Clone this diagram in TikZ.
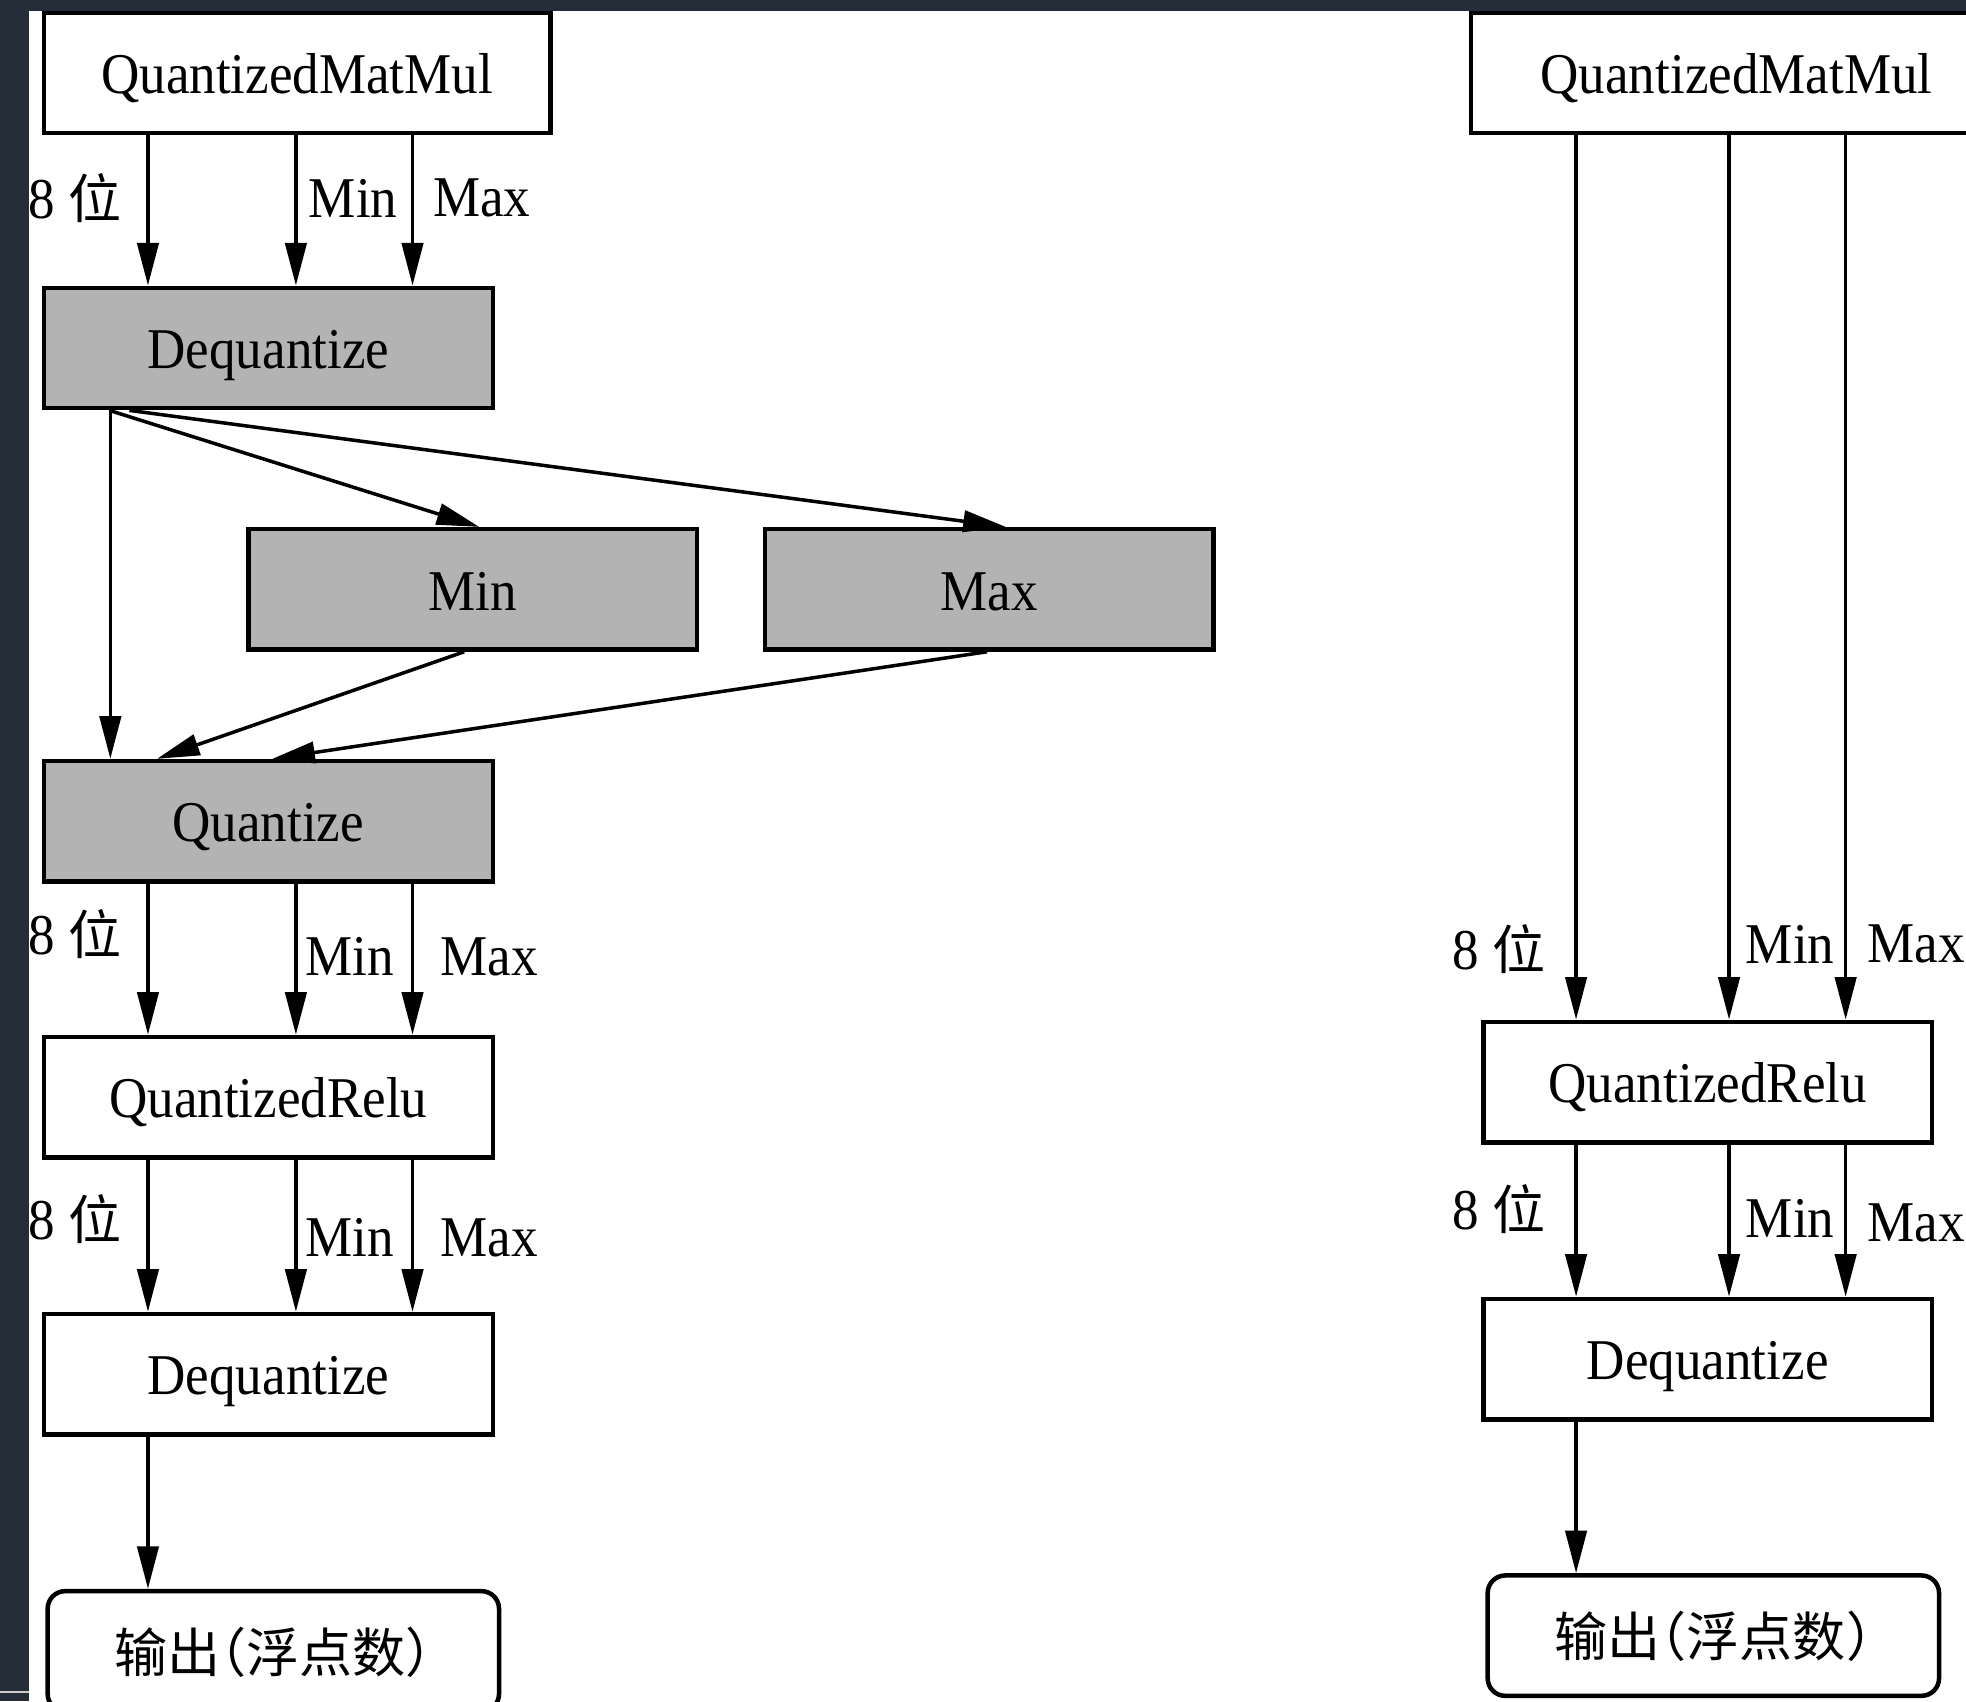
\documentclass[tikz,border=0pt]{standalone}
\usepackage{fontspec}
\setmainfont{Liberation Serif}[FakeStretch=0.92]
\newfontfamily\cjk{Noto Sans CJK SC}[Scale=0.92,RawFeature=+halt]
\usetikzlibrary{arrows.meta,calc}
\definecolor{graybox}{HTML}{B3B3B3}
\definecolor{framecol}{HTML}{252E38}
\begin{document}
\begin{tikzpicture}[x=0.5pt,y=-0.5pt,
  every node/.style={font=\fontsize{23pt}{27pt}\selectfont},
  box/.style={draw,line width=1.8pt,minimum width=179pt,minimum height=48pt,inner sep=0pt,fill=white,
    text height=20pt,text depth=3.5pt},
  gbox/.style={box,fill=graybox},
  obox/.style={box,minimum width=180pt,rounded corners=7pt},
  arr/.style={line width=1.4pt,-{Triangle[length=17pt,width=8.5pt]}},
  lbl/.style={inner sep=0pt}]
\fill[white] (0,0) rectangle (1568,1357);
\useasboundingbox (0,0) rectangle (1568,1357);

% left column nodes
\node[box,minimum width=202pt] (qmmA) at (237,58) {QuantizedMatMul};
\node[gbox] (deqA) at (214,277.5) {Dequantize};
\node[gbox] (minN) at (377,470) {Min};
\node[gbox] (maxN) at (789,470) {Max};
\node[gbox] (quant) at (214,655) {Quantize};
\node[box] (qreluA) at (214,875) {QuantizedRelu};
\node[box] (deqB) at (214,1096) {Dequantize};
\node[obox] (outA) at (218,1317) {\cjk 输出（浮点数）};

% right column nodes
\node[box,minimum width=212pt] (qmmB) at (1385,58) {QuantizedMatMul};
\node[box] (qreluB) at (1362,863) {QuantizedRelu};
\node[box] (deqC) at (1362,1084) {Dequantize};
\node[obox] (outB) at (1366.5,1304.5) {\cjk 输出（浮点数）};

% column guides
\coordinate (cA) at (118,0);
\coordinate (cB) at (236,0);
\coordinate (cC) at (329,0);
\coordinate (cD) at (88,0);
\coordinate (rA) at (1257,0);
\coordinate (rB) at (1379,0);
\coordinate (rC) at (1472,0);

% left vertical edges
\foreach \s/\t in {qmmA/deqA, quant/qreluA, qreluA/deqB}
  \foreach \c in {cA,cB,cC}
    \draw[arr] (\s.south -| \c) -- (\t.north -| \c);
\draw[arr] (deqB.south -| cA) -- (outA.north -| cA);

% right vertical edges
\foreach \s/\t in {qmmB/qreluB, qreluB/deqC}
  \foreach \c in {rA,rB,rC}
    \draw[arr] (\s.south -| \c) -- (\t.north -| \c);
\draw[arr] (deqC.south -| rA) -- (outB.north -| rA);

% min/max branch
\draw[arr] (deqA.south -| cD) -- (quant.north -| cD);
\draw[arr] ($(deqA.south west)+(54,0)$) -- ($(minN.north west)+(186,0)$);
\draw[arr] ($(deqA.south west)+(70,0)$) -- ($(maxN.north west)+(194,0)$);
\draw[arr] ($(minN.south west)+(174,0)$) -- ($(quant.north west)+(92,0)$);
\draw[arr] ($(maxN.south west)+(179,0)$) -- ($(quant.north west)+(184,0)$);

% labels left
\node[lbl,anchor=east] (l1a) at (97,158) {8 {\cjk 位}};
\node[lbl,anchor=west] (l1b) at (246,158) {Min};
\node[lbl,anchor=west] (l1c) at (345,158) {Max};
\node[lbl,anchor=east] (l2a) at (97,745) {8 {\cjk 位}};
\node[lbl,anchor=west] (l2b) at (243,763) {Min};
\node[lbl,anchor=west] (l2c) at (351,763) {Max};
\node[lbl,anchor=east] (l3a) at (97,972) {8 {\cjk 位}};
\node[lbl,anchor=west] (l3b) at (243,987) {Min};
\node[lbl,anchor=west] (l3c) at (351,987) {Max};
% labels right
\node[lbl,anchor=east] (r1a) at (1233,757) {8 {\cjk 位}};
\node[lbl,anchor=west] (r1b) at (1392,753) {Min};
\node[lbl,anchor=west] (r1c) at (1489,753) {Max};
\node[lbl,anchor=east] (r2a) at (1233,964) {8 {\cjk 位}};
\node[lbl,anchor=west] (r2b) at (1392,972) {Min};
\node[lbl,anchor=west] (r2c) at (1489,975) {Max};

% dark frame
\fill[framecol] (0,0) rectangle (1568,9);
\fill[framecol] (0,0) rectangle (23,1357);
\draw[gray!40,line width=0.5pt] (0,1349.5) -- (23,1349.5);
\end{tikzpicture}
\end{document}
